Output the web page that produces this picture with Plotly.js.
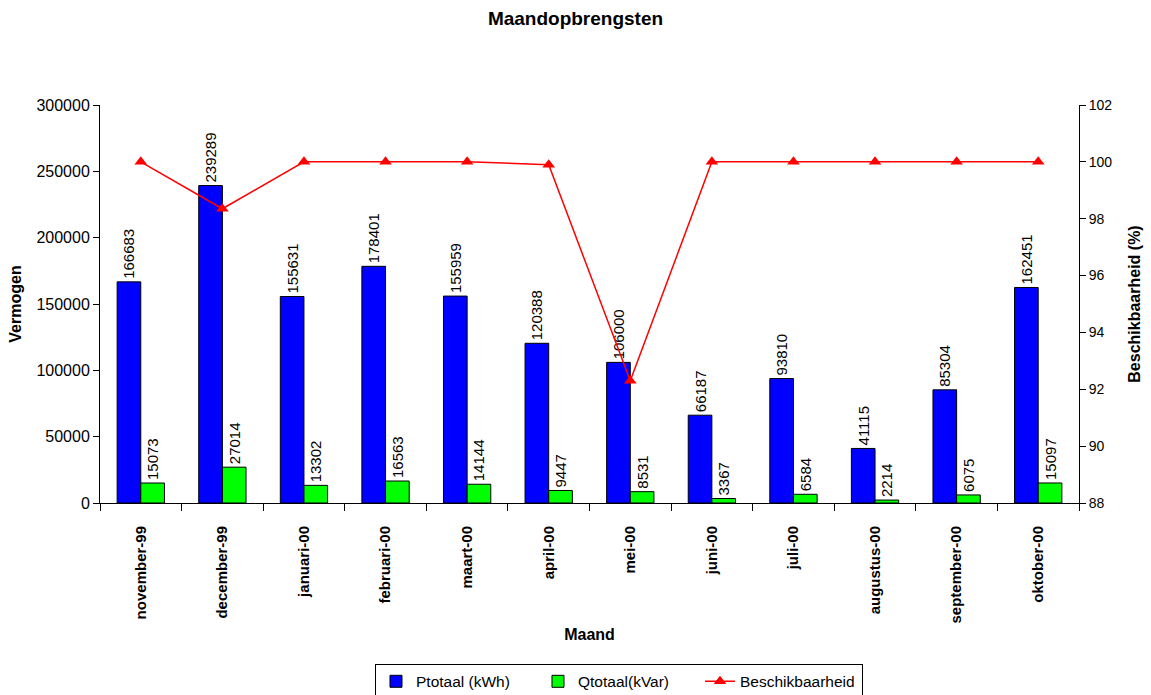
<!DOCTYPE html>
<html>
<head>
<meta charset="utf-8">
<script src="https://cdn.plot.ly/plotly-3.0.1.min.js"></script>
<style>
  html, body { margin: 0; padding: 0; background: #fff; }
  #chart { width: 1151px; height: 695px; }
</style>
</head>
<body>
<div id="chart"></div>
<script>
// Monthly yields: active energy, reactive energy and availability
const maanden = ["november-99", "december-99", "januari-00", "februari-00", "maart-00", "april-00",
                 "mei-00", "juni-00", "juli-00", "augustus-00", "september-00", "oktober-00"];
const ptotaal = [166683, 239289, 155631, 178401, 155959, 120388, 106000, 66187, 93810, 41115, 85304, 162451];
const qtotaal = [15073, 27014, 13302, 16563, 14144, 9447, 8531, 3367, 6584, 2214, 6075, 15097];
const beschikbaarheid = [100, 98.35, 100, 100, 100, 99.9, 92.3, 100, 100, 100, 100, 100];

const font = "Liberation Sans, Arial, sans-serif";

const barText = {family: font, size: 15, color: "#000"};

const traces = [
  {
    type: "bar", name: "Ptotaal (kWh)", x: maanden, y: ptotaal,
    marker: {color: "#0000ff", line: {color: "#000", width: 1}},
    text: ptotaal.map(String), textposition: "outside", textangle: -90,
    constraintext: "none", textfont: barText, cliponaxis: false
  },
  {
    type: "bar", name: "Qtotaal(kVar)", x: maanden, y: qtotaal,
    marker: {color: "#00ff00", line: {color: "#000", width: 1}},
    text: qtotaal.map(String), textposition: "outside", textangle: -90,
    constraintext: "none", textfont: barText, cliponaxis: false
  },
  {
    type: "scatter", mode: "lines+markers", name: "Beschikbaarheid",
    x: maanden, y: beschikbaarheid, yaxis: "y2",
    line: {color: "#ff0000", width: 1.5},
    marker: {symbol: "triangle-up", size: 11, color: "#ff0000"},
    cliponaxis: false
  }
];

const layout = {
  width: 1151, height: 695,
  margin: {l: 100, r: 72, t: 105, b: 192},
  paper_bgcolor: "#fff", plot_bgcolor: "#fff",
  font: {family: font, size: 15, color: "#000"},
  title: {text: "<b>Maandopbrengsten</b>", xref: "container", x: 0.5, xanchor: "center",
          yref: "container", y: 0.973, yanchor: "middle",
          font: {family: font, size: 19, color: "#000"}},
  barmode: "group", bargap: 0.42, bargroupgap: 0,
  showlegend: true,
  legend: {
    orientation: "h", xref: "container", x: 0.3258, xanchor: "left",
    yref: "container", y: 0.045, yanchor: "top",
    bordercolor: "#000", borderwidth: 1, bgcolor: "#fff",
    font: {family: font, size: 15.5, color: "#000"},
    traceorder: "normal", entrywidth: 117, entrywidthmode: "pixels"
  },
  xaxis: {
    type: "category", range: [-0.5, 11.5], automargin: false,
    tickangle: -90, tickson: "boundaries",
    ticks: "outside", ticklen: 7, tickcolor: "#000", ticklabelstandoff: 16,
    showline: true, linecolor: "#000", linewidth: 1,
    tickfont: {family: font, size: 15, color: "#000", weight: "bold"},
    title: {text: "<b>Maand</b>", font: {family: font, size: 16}, standoff: 6},
    showgrid: false, zeroline: false
  },
  yaxis: {
    range: [0, 300000], dtick: 50000, tickformat: "d", automargin: false,
    ticks: "outside", ticklen: 6, tickcolor: "#000",
    showline: true, linecolor: "#000", linewidth: 1,
    showgrid: false, zeroline: false,
    tickfont: {family: font, size: 16},
    title: {text: "<b>Vermogen</b>", font: {family: font, size: 16}, standoff: 10}
  },
  yaxis2: {
    overlaying: "y", side: "right", range: [88, 102], dtick: 2, automargin: false,
    ticks: "outside", ticklen: 6, tickcolor: "#000",
    showline: true, linecolor: "#000", linewidth: 1,
    showgrid: false, zeroline: false,
    tickfont: {family: font, size: 14},
    title: {text: "<b>Beschikbaarheid (%)</b>", font: {family: font, size: 16}, standoff: 17}
  }
};

Plotly.newPlot("chart", traces, layout, {displayModeBar: false, staticPlot: true});
</script>
</body>
</html>
